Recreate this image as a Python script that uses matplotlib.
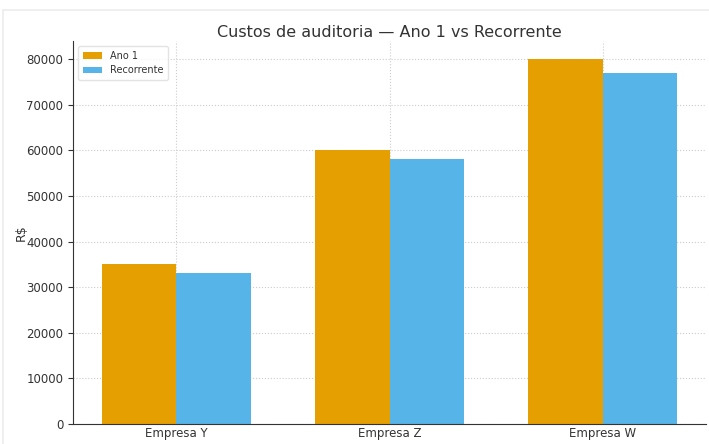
import matplotlib
matplotlib.use("Agg")
import matplotlib.pyplot as plt
from matplotlib.patches import Rectangle
import numpy as np

empresas = ["Empresa Y", "Empresa Z", "Empresa W"]
ano1 = [35000, 60000, 80000]
recorrente = [33000, 58000, 77000]

plt.rcParams['font.family'] = ['DejaVu Sans']
text_color = "#333333"

fig = plt.figure(figsize=(7.09, 4.44), dpi=100)
# faint page frame around the chart
fig.patches.append(Rectangle((3 / 709, -0.1), 1.1, (444 - 10) / 444 + 0.1,
                             transform=fig.transFigure, fill=False,
                             edgecolor="#ececec", linewidth=1.2, zorder=0))

ax = fig.add_axes([0.103, 0.045, 0.893, 0.863])

x = np.arange(len(empresas))
w = 0.35
ax.bar(x - w / 2, ano1, w, color="#E69F00", label="Ano 1", zorder=2)
ax.bar(x + w / 2, recorrente, w, color="#56B4E9", label="Recorrente", zorder=2)

ax.set_xticks(x)
ax.set_xticklabels(empresas, fontsize=8.5, color=text_color)
ax.tick_params(axis="y", labelsize=8.5, labelcolor=text_color, colors=text_color)
ax.tick_params(axis="x", length=0, pad=2)
ax.set_ylabel("R$", fontsize=9, color=text_color)
ax.yaxis.set_label_coords(-0.072, 0.5)
ax.set_title("Custos de auditoria — Ano 1 vs Recorrente", fontsize=11.5,
             pad=3, color=text_color)

ax.grid(True, linestyle=":", color="#cccccc", linewidth=0.8, zorder=0)
ax.set_axisbelow(True)
for s in ("top", "right"):
    ax.spines[s].set_visible(False)
ax.spines["left"].set_color("#333333")
ax.spines["bottom"].set_color("#333333")

leg = ax.legend(loc="upper left", fontsize=7, frameon=True, edgecolor="#dddddd",
                handlelength=2, borderpad=0.5, labelspacing=0.5)
for t in leg.get_texts():
    t.set_color(text_color)

fig.savefig("out.png", dpi=100)
